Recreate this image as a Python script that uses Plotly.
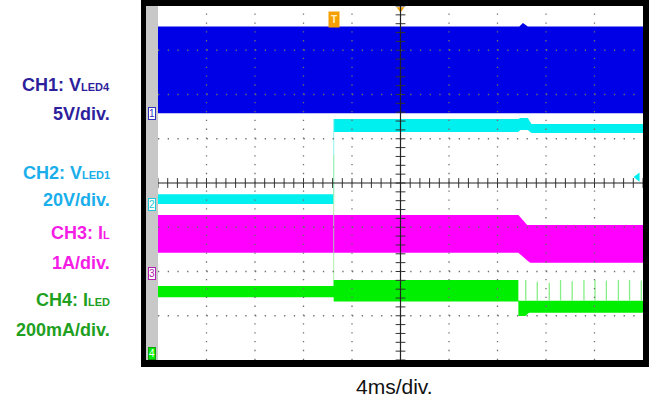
import plotly.graph_objects as go

# ---------------- data ----------------
# time in ms (4 ms/div, 10 divisions, trigger/center at 0)
ch1_t = [-20, 9.8, 10.1, 10.5, 20]
ch1_max = [9.8, 9.8, 10.2, 9.8, 9.8]          # V  (VLED4)
ch1_min = [0.0, 0.0, 0.0, 0.0, 0.0]

ch2_t = [-20, -5.51, -5.51, 9.7, 9.9, 10.5, 10.8, 20]
ch2_max = [4.4, 4.4, 38.4, 38.4, 38.9, 38.9, 36.2, 36.2]   # V (VLED1)
ch2_min = [0.0, 0.0, 32.5, 32.5, 33.5, 33.5, 32.1, 32.1]

ch3_t = [-20, 9.72, 10.45, 10.7, 20]
ch3_max = [1.31, 1.31, 1.085, 1.085, 1.085]    # A (IL)
ch3_min = [0.46, 0.46, 0.28, 0.233, 0.233]

ch4_t = [-20, -5.51, -5.51, 9.72, 9.72, 10.3, 10.6, 20]
ch4_max = [0.321, 0.321, 0.348, 0.348, 0.254, 0.254, 0.254, 0.254]  # A (ILED)
ch4_min = [0.270, 0.270, 0.250, 0.250, 0.185, 0.185, 0.200, 0.200]

ch4_edge_t = -5.51
ch4_edge_peak = 0.913
ch4_pulse_t = [10.33, 11.28, 12.27, 13.2, 14.16, 15.13, 16.04, 16.98, 17.97, 18.89, 19.86]
ch4_pulse_peak = [0.348, 0.340, 0.335, 0.348, 0.342, 0.348, 0.348, 0.345, 0.348, 0.348, 0.345]
ch4_pulse_base = 0.254

trig_t = -5.51
trig_level = 12.2   # V on CH2

# ---------------- scope settings ----------------
SCALE = {"ch1": 5.0, "ch2": 20.0, "ch3": 1.0, "ch4": 0.2}
GROUND = {"ch1": 1.575, "ch2": -0.475, "ch3": -2.034, "ch4": -3.93}
COLOR = {"ch1": "#0000E6", "ch2": "#00F0F0", "ch3": "#FF00FF", "ch4": "#00EE00"}

W, H = 649, 402
L, R, T, B = 158, 6, 6, 42
PW, PH = W - L - R, H - T - B


def to_div(ch, vals):
    return [GROUND[ch] + v / SCALE[ch] for v in vals]


def px(x):
    return (x - L) / PW


def py(y):
    return 1 - (y - T) / PH


fig = go.Figure()


def band(ch, t, vmax, vmin):
    fig.add_trace(go.Scatter(
        x=list(t) + list(t)[::-1],
        y=to_div(ch, vmax) + to_div(ch, vmin)[::-1],
        mode="lines", fill="toself", fillcolor=COLOR[ch],
        line=dict(width=0, color=COLOR[ch]), hoverinfo="skip", showlegend=False))


band("ch1", ch1_t, ch1_max, ch1_min)
band("ch2", ch2_t, ch2_max, ch2_min)
fig.add_trace(go.Scatter(x=[trig_t, trig_t], y=to_div("ch2", [ch2_min[0], ch2_max[2]]),
                         mode="lines", line=dict(color="#90F4F4", width=1),
                         hoverinfo="skip", showlegend=False))
band("ch3", ch3_t, ch3_max, ch3_min)
fig.add_trace(go.Scatter(x=[ch4_edge_t, ch4_edge_t], y=to_div("ch4", [ch4_max[0], ch4_edge_peak]),
                         mode="lines", line=dict(color="#9CEE9C", width=1), opacity=0.8,
                         hoverinfo="skip", showlegend=False))
band("ch4", ch4_t, ch4_max, ch4_min)

px_x, px_y = [], []
for t, p in zip(ch4_pulse_t, ch4_pulse_peak):
    px_x += [t, t, None]
    px_y += to_div("ch4", [ch4_pulse_base, p]) + [None]
fig.add_trace(go.Scatter(x=px_x, y=px_y, mode="lines",
                         line=dict(color="#86EE86", width=1.3),
                         hoverinfo="skip", showlegend=False))

# ---------------- graticule ----------------
shapes = []
for k in range(-3, 4):
    if k == 0:
        continue
    shapes.append(dict(type="line", xref="x", yref="y", x0=-20, x1=20, y0=k, y1=k,
                       line=dict(color="#6E6E6E", width=1.3, dash="1.3px,8.4px"), layer="above"))
for k in range(-4, 5):
    if k == 0:
        continue
    xv = k * 4
    shapes.append(dict(type="line", xref="x", yref="y", x0=xv, x1=xv, y0=-4, y1=4,
                       line=dict(color="#6E6E6E", width=1.3, dash="1.3px,7.55px"), layer="above"))
shapes.append(dict(type="line", xref="x", yref="y", x0=-20, x1=20, y0=0, y1=0,
                   line=dict(color="#222222", width=1.2), layer="above"))
shapes.append(dict(type="line", xref="x", yref="y", x0=0, x1=0, y0=-4, y1=4,
                   line=dict(color="#222222", width=1.2), layer="above"))

# frame around the screen (in margins only)
def rect(x0, x1, y0, y1, color):
    shapes.append(dict(type="rect", xref="paper", yref="paper",
                       x0=px(x0), x1=px(x1), y0=py(y1), y1=py(y0),
                       line=dict(width=0), fillcolor=color, layer="above"))

rect(141, 649, 0, 6, "#000000")
rect(141, 649, 360, 367, "#000000")
rect(141, 146, 0, 367, "#000000")
rect(643, 649, 0, 367, "#000000")
rect(146, 158, 6, 360, "#C8C8C8")

# center tick marks
tx = [i * 0.8 for i in range(-25, 26)]
fig.add_trace(go.Scatter(x=tx, y=[0] * len(tx), mode="markers",
                         marker=dict(symbol="line-ns", size=7, line=dict(width=1, color="#333333")),
                         hoverinfo="skip", showlegend=False))
ty = [i * 0.2 for i in range(-20, 21)]
fig.add_trace(go.Scatter(x=[0] * len(ty), y=ty, mode="markers",
                         marker=dict(symbol="line-ew", size=7, line=dict(width=1, color="#333333")),
                         hoverinfo="skip", showlegend=False))

# trigger markers
fig.add_trace(go.Scatter(x=[0], y=[3.93], mode="markers", cliponaxis=False,
                         marker=dict(symbol="triangle-down", size=7, color="#F5A000"),
                         hoverinfo="skip", showlegend=False))
fig.add_trace(go.Scatter(x=[19.55], y=to_div("ch2", [trig_level]), mode="markers", cliponaxis=False,
                         marker=dict(symbol="triangle-left", size=8, color=COLOR["ch2"]),
                         hoverinfo="skip", showlegend=False))

annotations = []
annotations.append(dict(x=trig_t, xref="x", y=py(19), yref="paper", text="<b>T</b>",
                        showarrow=False, font=dict(size=10, color="#FFF2C8", family="Liberation Sans"),
                        bgcolor="#F5A000", borderpad=2, xanchor="center", yanchor="middle"))

# channel ground markers on the grey strip
for ch, n in [("ch1", "1"), ("ch2", "2"), ("ch3", "3"), ("ch4", "4")]:
    filled = ch == "ch4"
    border = {"ch1": "#3030C0", "ch2": "#20C8D8", "ch3": "#B020B0", "ch4": "#10A010"}[ch]
    annotations.append(dict(x=px(152), xref="paper", y=max(GROUND[ch], -3.85), yref="y", text=n,
                            showarrow=False,
                            font=dict(size=10, color="#FFFFFF" if filled else border, family="Liberation Sans"),
                            bgcolor=COLOR[ch] if filled else "#FFFFFF", bordercolor=border,
                            borderwidth=1, borderpad=0, xanchor="center", yanchor="middle"))

# channel labels
LBL = "Liberation Sans, Arial, sans-serif"


def sub(s):
    return "<span style='font-size:11px'>" + s + "</span>"


labels = [
    ("<b>CH1: V" + sub("LED4") + "</b>", 85, "#2E1F9C"),
    ("<b>5V/div.</b>", 113.5, "#2E1F9C"),
    ("<b>CH2: V" + sub("LED1") + "</b>", 173, "#1AAEEA"),
    ("<b>20V/div.</b>", 200, "#1AAEEA"),
    ("<b>CH3: I" + sub("L") + "</b>", 233, "#F51CE6"),
    ("<b>1A/div.</b>", 263, "#F51CE6"),
    ("<b>CH4: I" + sub("LED") + "</b>", 300, "#1FA01F"),
    ("<b>200mA/div.</b>", 330, "#1FA01F"),
]
for txt, yy, col in labels:
    annotations.append(dict(x=px(112), xref="paper", y=py(yy), yref="paper", text=txt,
                            showarrow=False, font=dict(size=18, color=col, family=LBL),
                            xanchor="right", yanchor="middle"))

annotations.append(dict(x=px(394), xref="paper", y=py(386), yref="paper", text="4ms/div.",
                        showarrow=False, font=dict(size=21, color="#111111", family=LBL),
                        xanchor="center", yanchor="middle"))

fig.update_layout(
    width=W, height=H,
    margin=dict(l=L, r=R, t=T, b=B, pad=0),
    paper_bgcolor="white", plot_bgcolor="white",
    shapes=shapes, annotations=annotations, showlegend=False,
    xaxis=dict(range=[-20, 20], showgrid=False, zeroline=False, showticklabels=False,
               ticks="", showline=False, fixedrange=True),
    yaxis=dict(range=[-4, 4], showgrid=False, zeroline=False, showticklabels=False,
               ticks="", showline=False, fixedrange=True),
)

fig.write_html("out.html", config={"displayModeBar": False},
               post_script="document.body.style.margin='0px';document.body.style.overflow='hidden';")
